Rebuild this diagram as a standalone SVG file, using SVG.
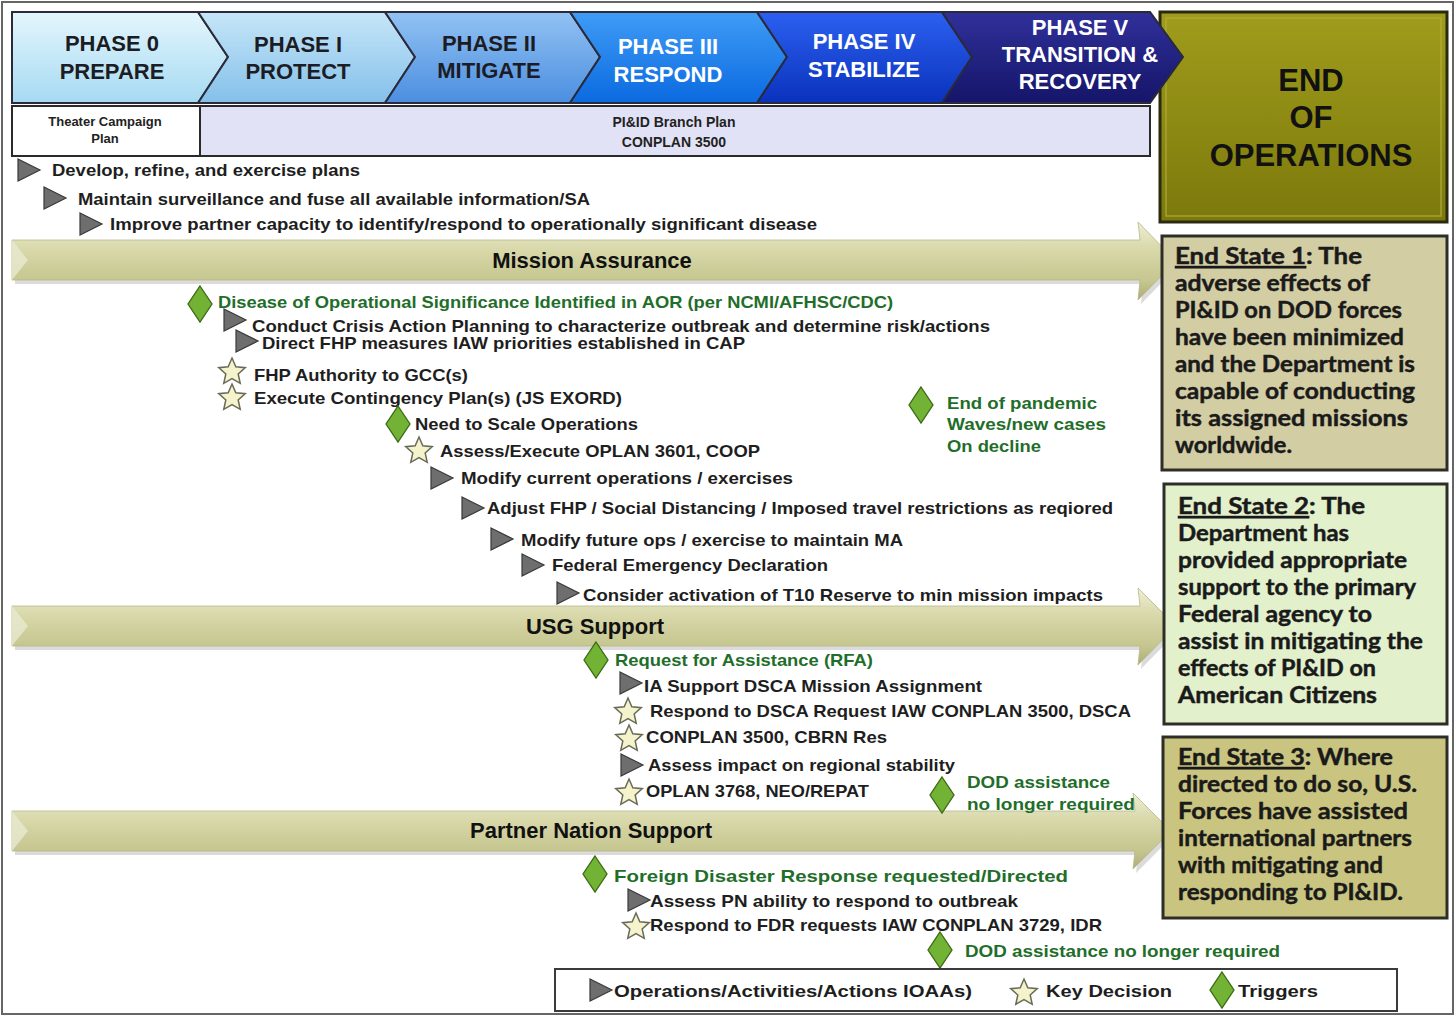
<svg xmlns="http://www.w3.org/2000/svg" xmlns:xlink="http://www.w3.org/1999/xlink" width="1456" height="1017" viewBox="0 0 1456 1017">
<defs>
<style>
.hdr{font-family:"Liberation Sans",Arial,sans-serif;font-weight:bold;font-size:22px;text-anchor:middle}
.dk{fill:#1c1c24}
.wt{fill:#ffffff}
.sub{font-family:"Liberation Sans",Arial,sans-serif;font-weight:bold;text-anchor:middle;fill:#222}
.it{font-family:"Liberation Sans",Arial,sans-serif;font-weight:bold;font-size:17px;fill:#1e1e1e}
.gr{fill:#1f6e2a}
.bar{font-family:"Liberation Sans",Arial,sans-serif;font-weight:bold;font-size:22px;fill:#111;text-anchor:middle}
.es{font-family:Lato,"Liberation Sans",sans-serif;font-weight:bold;font-size:22px;fill:#1a1a1a;stroke:#1a1a1a;stroke-width:0.45}
.eoo{font-family:"Liberation Sans",Arial,sans-serif;font-weight:bold;font-size:31px;fill:#111;text-anchor:middle}
.chev{stroke:#2a2a3a;stroke-width:2}
.tri{fill:#6e6e6e;stroke:#3a3a3a;stroke-width:1.2}
.dia{fill:#72b234;stroke:#3c6a14;stroke-width:1.3}
.star{fill:#f5f3cc;stroke:#6a6a58;stroke-width:1.5}
.esbox{stroke:#2e2e28;stroke-width:3}
</style>
<linearGradient id="g0" x1="0" y1="0" x2="0" y2="1"><stop offset="0" stop-color="#e4f6fd"/><stop offset="1" stop-color="#a6daf2"/></linearGradient>
<linearGradient id="g1" x1="0" y1="0" x2="0" y2="1"><stop offset="0" stop-color="#c6e6f8"/><stop offset="1" stop-color="#84c0ea"/></linearGradient>
<linearGradient id="g2" x1="0" y1="0" x2="0" y2="1"><stop offset="0" stop-color="#92c2f3"/><stop offset="1" stop-color="#4b8ee0"/></linearGradient>
<linearGradient id="g3" x1="0" y1="0" x2="0" y2="1"><stop offset="0" stop-color="#3f9cf6"/><stop offset="1" stop-color="#0b6ae0"/></linearGradient>
<linearGradient id="g4" x1="0" y1="0" x2="0" y2="1"><stop offset="0" stop-color="#2c60f0"/><stop offset="1" stop-color="#0a32bc"/></linearGradient>
<linearGradient id="g5" x1="0" y1="0" x2="0" y2="1"><stop offset="0" stop-color="#30309a"/><stop offset="1" stop-color="#15156a"/></linearGradient>
<linearGradient id="kh" x1="0" y1="0" x2="0" y2="1"><stop offset="0" stop-color="#eeeed4"/><stop offset="0.35" stop-color="#d8d8aa"/><stop offset="0.75" stop-color="#c6c690"/><stop offset="1" stop-color="#adad74"/></linearGradient>
<linearGradient id="eo" x1="0" y1="0" x2="0" y2="1"><stop offset="0" stop-color="#a09c1c"/><stop offset="1" stop-color="#7c790c"/></linearGradient>
<path id="tri" class="tri" d="M0,-11 L22,0 L0,11 Z"/>
<path id="dia" class="dia" d="M0,-18 L12,0 L0,18 L-12,0 Z"/>
<path id="star" class="star" d="M0,-14 L3.82,-5.26 L13.31,-4.33 L6.18,2.01 L8.23,11.33 L0,6.5 L-8.23,11.33 L-6.18,2.01 L-13.31,-4.33 L-3.82,-5.26 Z"/>
</defs>

<rect x="0" y="0" width="1456" height="1017" fill="#ffffff"/>
<rect x="2" y="2" width="1451" height="1012" fill="none" stroke="#666" stroke-width="2"/>

<g id="end-of-operations">
<rect x="1160" y="12" width="287" height="210" fill="url(#eo)" stroke="#2a2a10" stroke-width="3"/>
<rect x="1166" y="18" width="275" height="198" fill="none" stroke="#b4b040" stroke-width="1.5" opacity="0.7"/>
<text class="eoo" x="1311" y="91">END</text>
<text class="eoo" x="1311" y="128">OF</text>
<text class="eoo" x="1311" y="166">OPERATIONS</text>
</g>

<g id="phase0">
<polygon class="chev" fill="url(#g0)" points="12,12 198,12 228,57 198,103 12,103"/>
<text class="hdr dk" x="112" y="51">PHASE 0</text>
<text class="hdr dk" x="112" y="79">PREPARE</text>
</g>
<g id="phase1">
<polygon class="chev" fill="url(#g1)" points="198,12 385,12 415,57 385,103 198,103 228,57"/>
<text class="hdr dk" x="298" y="52">PHASE I</text>
<text class="hdr dk" x="298" y="79" font-size="20">PROTECT</text>
</g>
<g id="phase2">
<polygon class="chev" fill="url(#g2)" points="385,12 570,12 600,57 570,103 385,103 415,57"/>
<text class="hdr dk" x="489" y="51">PHASE II</text>
<text class="hdr dk" x="489" y="78">MITIGATE</text>
</g>
<g id="phase3">
<polygon class="chev" fill="url(#g3)" points="570,12 757,12 787,57 757,103 570,103 600,57"/>
<text class="hdr wt" x="668" y="54">PHASE III</text>
<text class="hdr wt" x="668" y="82">RESPOND</text>
</g>
<g id="phase4">
<polygon class="chev" fill="url(#g4)" points="757,12 942,12 972,57 942,103 757,103 787,57"/>
<text class="hdr wt" x="864" y="49">PHASE IV</text>
<text class="hdr wt" x="864" y="77">STABILIZE</text>
</g>
<g id="phase5">
<polygon class="chev" fill="url(#g5)" points="942,12 1150,12 1183,57 1150,103 942,103 972,57"/>
<text class="hdr wt" x="1080" y="35">PHASE V</text>
<text class="hdr wt" x="1080" y="62">TRANSITION &amp;</text>
<text class="hdr wt" x="1080" y="89">RECOVERY</text>
</g>

<g id="theater-plan">
<rect x="12" y="106" width="188" height="50" fill="#ffffff" stroke="#2a2a2a" stroke-width="2"/>
<text class="sub" x="105" y="126" font-size="13">Theater Campaign</text>
<text class="sub" x="105" y="143" font-size="13">Plan</text>
</g>
<g id="branch-plan">
<rect x="200" y="106" width="950" height="50" fill="#e2e2f6" stroke="#2a2a2a" stroke-width="2"/>
<text class="sub" x="674" y="127" font-size="14">PI&amp;ID Branch Plan</text>
<text class="sub" x="674" y="147" font-size="14">CONPLAN 3500</text>
</g>

<g id="mission-assurance">
<polygon points="15,244 1143,244 1141,226 1179,265 1141,304 1143,284 15,284" fill="#999" opacity="0.35"/>
<polygon points="12,240 1140,240 1138,222 1176,261 1138,300 1140,280 12,280" fill="url(#kh)" stroke="#b8b888" stroke-width="0.8"/>
<polygon points="12,240 28,260 12,280" fill="#e8e8d0" opacity="0.8"/>
<text class="bar" x="592" y="268">Mission  Assurance</text>
</g>
<g id="usg-support">
<polygon points="15,610 1143,610 1141,592 1179,630 1141,669 1143,650 15,650" fill="#999" opacity="0.35"/>
<polygon points="12,606 1140,606 1138,588 1176,626 1138,665 1140,646 12,646" fill="url(#kh)" stroke="#b8b888" stroke-width="0.8"/>
<polygon points="12,606 28,626 12,646" fill="#e8e8d0" opacity="0.8"/>
<text class="bar" x="595" y="634">USG  Support</text>
</g>
<g id="partner-nation-support">
<polygon points="15,815 1138,815 1136,797 1174,835 1136,873 1138,855 15,855" fill="#999" opacity="0.35"/>
<polygon points="12,811 1135,811 1133,793 1171,831 1133,869 1135,851 12,851" fill="url(#kh)" stroke="#b8b888" stroke-width="0.8"/>
<polygon points="12,811 28,831 12,851" fill="#e8e8d0" opacity="0.8"/>
<text class="bar" x="591" y="838">Partner  Nation  Support</text>
</g>

<g id="end-state-1">
<rect class="esbox" x="1162" y="236" width="285" height="234" fill="#d3cda4"/>
<text class="es" x="1175" y="264" textLength="187" lengthAdjust="spacingAndGlyphs"><tspan text-decoration="underline">End State 1</tspan>:  The</text>
<text class="es" x="1175" y="291" textLength="195" lengthAdjust="spacingAndGlyphs">adverse effects of</text>
<text class="es" x="1175" y="318" textLength="227" lengthAdjust="spacingAndGlyphs">PI&amp;ID on DOD forces</text>
<text class="es" x="1175" y="345" textLength="229" lengthAdjust="spacingAndGlyphs">have been minimized</text>
<text class="es" x="1175" y="372" textLength="240" lengthAdjust="spacingAndGlyphs">and the Department is</text>
<text class="es" x="1175" y="399" textLength="240" lengthAdjust="spacingAndGlyphs">capable of conducting</text>
<text class="es" x="1175" y="426" textLength="233" lengthAdjust="spacingAndGlyphs">its assigned missions</text>
<text class="es" x="1175" y="453" textLength="117" lengthAdjust="spacingAndGlyphs">worldwide.</text>
</g>
<g id="end-state-2">
<rect class="esbox" x="1164" y="484" width="283" height="240" fill="#e2f0cc"/>
<text class="es" x="1178" y="514" textLength="187" lengthAdjust="spacingAndGlyphs"><tspan text-decoration="underline">End State 2</tspan>:  The</text>
<text class="es" x="1178" y="541" textLength="171" lengthAdjust="spacingAndGlyphs">Department has</text>
<text class="es" x="1178" y="568" textLength="229" lengthAdjust="spacingAndGlyphs">provided appropriate</text>
<text class="es" x="1178" y="595" textLength="238" lengthAdjust="spacingAndGlyphs">support to the primary</text>
<text class="es" x="1178" y="622" textLength="194" lengthAdjust="spacingAndGlyphs">Federal agency to</text>
<text class="es" x="1178" y="649" textLength="245" lengthAdjust="spacingAndGlyphs">assist in mitigating the</text>
<text class="es" x="1178" y="676" textLength="198" lengthAdjust="spacingAndGlyphs">effects of PI&amp;ID on</text>
<text class="es" x="1178" y="703" textLength="199" lengthAdjust="spacingAndGlyphs">American  Citizens</text>
</g>
<g id="end-state-3">
<rect class="esbox" x="1163" y="737" width="284" height="181" fill="#c9c47f"/>
<text class="es" x="1178" y="765" textLength="215" lengthAdjust="spacingAndGlyphs"><tspan text-decoration="underline">End State 3</tspan>:  Where</text>
<text class="es" x="1178" y="792" textLength="239" lengthAdjust="spacingAndGlyphs">directed to do so, U.S.</text>
<text class="es" x="1178" y="819" textLength="230" lengthAdjust="spacingAndGlyphs">Forces have assisted</text>
<text class="es" x="1178" y="846" textLength="234" lengthAdjust="spacingAndGlyphs">international partners</text>
<text class="es" x="1178" y="873" textLength="205" lengthAdjust="spacingAndGlyphs">with mitigating  and</text>
<text class="es" x="1178" y="900" textLength="225" lengthAdjust="spacingAndGlyphs">responding to PI&amp;ID.</text>
</g>

<g id="phase0-items">
<use href="#tri" x="18" y="170"/>
<text class="it" x="52" y="176" textLength="308" lengthAdjust="spacingAndGlyphs">Develop, refine, and exercise plans</text>
<use href="#tri" x="44" y="198"/>
<text class="it" x="78" y="205" textLength="512" lengthAdjust="spacingAndGlyphs">Maintain surveillance and fuse all available information/SA</text>
<use href="#tri" x="80" y="224"/>
<text class="it" x="110" y="230" textLength="707" lengthAdjust="spacingAndGlyphs">Improve partner capacity to identify/respond  to operationally  significant disease</text>
</g>

<g id="mission-assurance-items">
<use href="#dia" x="200" y="304"/>
<text class="it gr" x="218" y="308" textLength="675" lengthAdjust="spacingAndGlyphs">Disease of Operational  Significance Identified  in AOR (per NCMI/AFHSC/CDC)</text>
<use href="#tri" x="224" y="320"/>
<text class="it" x="252" y="332" textLength="738" lengthAdjust="spacingAndGlyphs">Conduct Crisis Action  Planning  to characterize outbreak and determine risk/actions</text>
<use href="#tri" x="236" y="341"/>
<text class="it" x="262" y="349" textLength="483" lengthAdjust="spacingAndGlyphs">Direct FHP  measures IAW priorities established in CAP</text>
<use href="#star" x="232" y="372"/>
<text class="it" x="254" y="381" textLength="214" lengthAdjust="spacingAndGlyphs">FHP Authority  to GCC(s)</text>
<use href="#star" x="232" y="398"/>
<text class="it" x="254" y="404" textLength="368" lengthAdjust="spacingAndGlyphs">Execute Contingency   Plan(s) (JS EXORD)</text>
<use href="#dia" x="398" y="424"/>
<text class="it" x="415" y="430" textLength="223" lengthAdjust="spacingAndGlyphs">Need to Scale Operations</text>
<use href="#star" x="419" y="451"/>
<text class="it" x="440" y="457" textLength="320" lengthAdjust="spacingAndGlyphs">Assess/Execute OPLAN 3601, COOP</text>
<use href="#tri" x="431" y="478"/>
<text class="it" x="461" y="484" textLength="332" lengthAdjust="spacingAndGlyphs">Modify current operations / exercises</text>
<use href="#tri" x="462" y="508"/>
<text class="it" x="487" y="514" textLength="626" lengthAdjust="spacingAndGlyphs">Adjust FHP  /  Social Distancing  / Imposed travel restrictions as reqiored</text>
<use href="#tri" x="491" y="539"/>
<text class="it" x="521" y="546" textLength="382" lengthAdjust="spacingAndGlyphs">Modify future ops / exercise to maintain MA</text>
<use href="#tri" x="522" y="565"/>
<text class="it" x="552" y="571" textLength="276" lengthAdjust="spacingAndGlyphs">Federal Emergency Declaration</text>
<use href="#tri" x="557" y="593"/>
<text class="it" x="583" y="601" textLength="520" lengthAdjust="spacingAndGlyphs">Consider activation  of T10 Reserve to min mission impacts</text>
<use href="#dia" x="921" y="405"/>
<text class="it gr" x="947" y="409" textLength="150" lengthAdjust="spacingAndGlyphs">End  of pandemic</text>
<text class="it gr" x="947" y="430" textLength="159" lengthAdjust="spacingAndGlyphs">Waves/new cases</text>
<text class="it gr" x="947" y="452" textLength="94" lengthAdjust="spacingAndGlyphs">On decline</text>
</g>

<g id="usg-support-items">
<use href="#dia" x="596" y="660"/>
<text class="it gr" x="615" y="666" textLength="258" lengthAdjust="spacingAndGlyphs">Request for Assistance (RFA)</text>
<use href="#tri" x="620" y="683"/>
<text class="it" x="644" y="692" textLength="338" lengthAdjust="spacingAndGlyphs">IA  Support DSCA  Mission Assignment</text>
<use href="#star" x="628" y="712"/>
<text class="it" x="650" y="717" textLength="481" lengthAdjust="spacingAndGlyphs">Respond  to DSCA  Request IAW CONPLAN  3500, DSCA</text>
<use href="#star" x="629" y="739"/>
<text class="it" x="646" y="743" textLength="241" lengthAdjust="spacingAndGlyphs">CONPLAN  3500, CBRN  Res</text>
<use href="#tri" x="621" y="765"/>
<text class="it" x="648" y="771" textLength="307" lengthAdjust="spacingAndGlyphs">Assess impact on regional stability</text>
<use href="#star" x="629" y="793"/>
<text class="it" x="646" y="797" textLength="223" lengthAdjust="spacingAndGlyphs">OPLAN  3768, NEO/REPAT</text>
<use href="#dia" x="942" y="795"/>
<text class="it gr" x="967" y="788" textLength="143" lengthAdjust="spacingAndGlyphs">DOD assistance</text>
<text class="it gr" x="967" y="810" textLength="168" lengthAdjust="spacingAndGlyphs">no longer  required</text>
</g>

<g id="partner-nation-items">
<use href="#dia" x="595" y="874"/>
<text class="it gr" x="614" y="882" font-size="19" textLength="454" lengthAdjust="spacingAndGlyphs">Foreign Disaster  Response  requested/Directed</text>
<use href="#tri" x="628" y="900"/>
<text class="it" x="650" y="907" textLength="368" lengthAdjust="spacingAndGlyphs">Assess  PN ability to respond to outbreak</text>
<use href="#star" x="636" y="927"/>
<text class="it" x="650" y="931" textLength="452" lengthAdjust="spacingAndGlyphs">Respond  to FDR  requests IAW CONPLAN  3729, IDR</text>
<use href="#dia" x="940" y="950"/>
<text class="it gr" x="965" y="957" textLength="315" lengthAdjust="spacingAndGlyphs">DOD assistance no longer  required</text>
</g>

<g id="legend">
<rect x="555" y="969" width="842" height="42" fill="#ffffff" stroke="#3a3a3a" stroke-width="2"/>
<use href="#tri" x="590" y="990"/>
<text class="it" x="614" y="997" font-size="19" textLength="358" lengthAdjust="spacingAndGlyphs">Operations/Activities/Actions  IOAAs)</text>
<use href="#star" x="1024" y="993"/>
<text class="it" x="1046" y="997" font-size="19" textLength="126" lengthAdjust="spacingAndGlyphs">Key Decision</text>
<use href="#dia" x="1222" y="990"/>
<text class="it" x="1238" y="997" font-size="19" textLength="80" lengthAdjust="spacingAndGlyphs">Triggers</text>
</g>
</svg>
